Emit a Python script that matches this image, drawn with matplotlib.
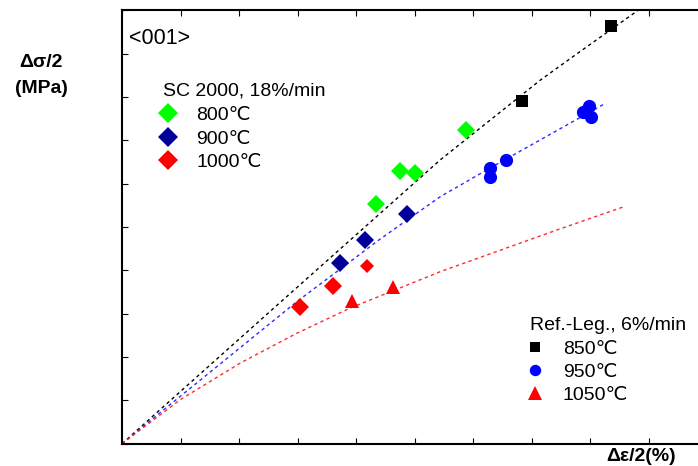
import matplotlib
matplotlib.use("Agg")
import matplotlib.pyplot as plt
from matplotlib.lines import Line2D

plt.rcParams['font.family'] = ['Liberation Sans', 'DejaVu Sans']

# SC 2000, 18%/min: strain amplitude vs stress amplitude (axis units)
sc800_x = [4.34, 4.76, 5.00, 5.88]
sc800_y = [5.53, 6.29, 6.25, 7.24]
sc900_x = [3.72, 4.15, 4.88]
sc900_y = [4.18, 4.70, 5.29]
sc1000_x = [3.04, 3.60, 4.19]
sc1000_y = [3.16, 3.65, 4.09]
sc1000_ms = [9.3, 9.3, 7.4]

# reference alloy, 6%/min
ref850_x = [6.83, 8.36]
ref850_y = [7.90, 9.64]
ref950_x = [6.29, 6.29, 6.57, 7.88, 7.98, 8.01]
ref950_y = [6.15, 6.36, 6.55, 7.65, 7.79, 7.54]
ref1050_x = [3.93, 4.63]
ref1050_y = [3.30, 3.61]

# cyclic stress-strain curves of the reference alloy
curve850_x = [0.0, 2.72, 5.44, 7.15, 7.83, 8.82]
curve850_y = [0.0, 3.28, 6.55, 8.39, 9.05, 10.0]
curve950_x = [0.0, 2.99, 4.41, 5.44, 6.29, 8.23]
curve950_y = [0.0, 3.28, 4.72, 5.70, 6.36, 7.83]
curve1050_x = [0.0, 1.00, 2.02, 2.99, 3.90, 5.44, 7.43, 8.56]
curve1050_y = [0.0, 1.02, 1.86, 2.55, 3.13, 3.97, 4.93, 5.46]

sc_labels = ["800\u2103", "900\u2103", "1000\u2103"]
ref_labels = ["850\u2103", "950\u2103", "1050\u2103"]

W, H = 698, 466
fig = plt.figure(figsize=(W / 100, H / 100), dpi=100)
ax = fig.add_axes([122 / W, 1 - 443.7 / H, 585 / W, 433.3 / H])
ax.set_xlim(0, 10)
ax.set_ylim(0, 10)

dash = (0, (2.4, 2.4))
ax.plot(curve850_x, curve850_y, color='black', lw=1.0, ls=dash)
ax.plot(curve950_x, curve950_y, color='#2a2aff', lw=1.0, ls=dash)
ax.plot(curve1050_x, curve1050_y, color='#ff2a2a', lw=1.0, ls=dash)

ax.plot(sc800_x, sc800_y, 'D', color='#00ff00', ms=9.3, mew=0, ls='none')
ax.plot(sc900_x, sc900_y, 'D', color='#000099', ms=9.6, mew=0, ls='none')
for x, y, s in zip(sc1000_x, sc1000_y, sc1000_ms):
    ax.plot([x], [y], 'D', color='#ff0000', ms=s, mew=0)
ax.plot(ref850_x, ref850_y, 's', color='black', ms=8.2, mew=0, ls='none')
ax.plot(ref950_x, ref950_y, 'o', color='#0000ff', ms=9.5, mew=0, ls='none')
ax.plot(ref1050_x, ref1050_y, '^', color='#ff0000', ms=10, mew=0, ls='none')

ax.set_xticks(range(0, 11))
ax.set_yticks(range(0, 11))
ax.tick_params(direction='in', length=4, width=0.8, top=True, right=False,
               labelbottom=False, labelleft=False)
for side in ('left', 'bottom', 'top'):
    ax.spines[side].set_linewidth(1.5)
ax.spines['right'].set_visible(False)


def fx(px):
    return px / W


def fy(py):
    return 1 - py / H


def marker(px, py, m, c, ms):
    fig.add_artist(Line2D([fx(px)], [fy(py)], marker=m, color=c, ms=ms,
                          mew=0, ls='none', transform=fig.transFigure))


fig.text(fx(129), fy(44), "<001>", fontsize=15.5, ha='left', va='baseline')

# SC 2000 key
fig.text(fx(163), fy(95), "SC 2000, 18%/min", fontsize=14, ha='left', va='baseline')
sc_colors = ['#00ff00', '#000099', '#ff0000']
for i, (lab, c) in enumerate(zip(sc_labels, sc_colors)):
    yc = 113.3 + 23.3 * i
    marker(168, yc, 'D', c, 10.0)
    fig.text(fx(196), fy(yc + 7), lab, fontsize=14, ha='left', va='baseline')

# reference alloy key
fig.text(fx(530), fy(329.5), "Ref.-Leg., 6%/min", fontsize=14, ha='left', va='baseline')
ref_marks = [('s', 'black', 7.2), ('o', '#0000ff', 8.2), ('^', '#ff0000', 10)]
for i, (lab, (m, c, s)) in enumerate(zip(ref_labels, ref_marks)):
    yc = 346.7 + 23.3 * i
    marker(535, yc, m, c, s)
    fig.text(fx(562.7), fy(yc + 7), lab, fontsize=14, ha='left', va='baseline')

# axis titles
fig.text(fx(41), fy(67), "\u0394\u03c3/2", fontsize=14, fontweight='bold',
         ha='center', va='baseline')
fig.text(fx(41), fy(93), "(MPa)", fontsize=14, fontweight='bold',
         ha='center', va='baseline')
fig.text(fx(641.5), fy(461), "\u0394\u03b5/2(%)", fontsize=14, fontweight='bold',
         ha='center', va='baseline')

fig.savefig("out.png", dpi=100)
